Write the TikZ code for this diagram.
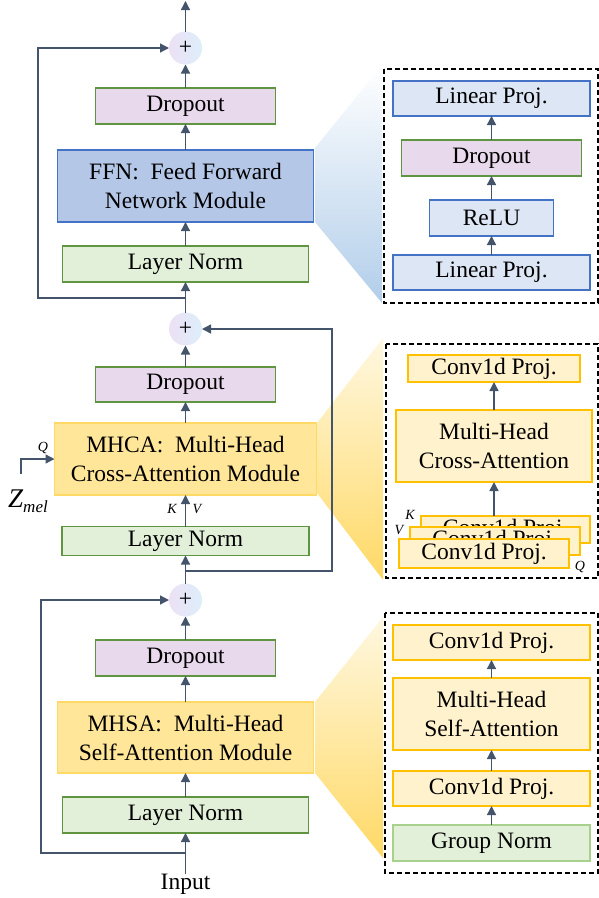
\documentclass[tikz,border=0pt]{standalone}
\usepackage{fontspec}
\setmainfont{Liberation Serif}
\usetikzlibrary{arrows.meta}
\definecolor{arrc}{HTML}{44546A}
\definecolor{dropf}{HTML}{E9D9EC}
\definecolor{grnb}{HTML}{5F9441}
\definecolor{lnf}{HTML}{E2F0D9}
\definecolor{ffnf}{HTML}{B4C7E7}
\definecolor{blub}{HTML}{4472C4}
\definecolor{linf}{HTML}{DCE6F4}
\definecolor{attf}{HTML}{FFE699}
\definecolor{attb}{HTML}{FFD966}
\definecolor{cvf}{HTML}{FFF2CC}
\definecolor{cvb}{HTML}{FFC000}
\definecolor{gnb}{HTML}{A9D18E}
\definecolor{fanb}{HTML}{B2CEEA}
\definecolor{fany}{HTML}{FFD966}
\definecolor{fanyt}{HTML}{FFF8E1}
\definecolor{plusl}{HTML}{ECE1F5}
\definecolor{plusr}{HTML}{DDEEFA}
\begin{document}
\begin{tikzpicture}[x=1pt,y=-1pt,
  every node/.style={inner sep=0pt, outer sep=0pt, align=center, font=\fontsize{23.5}{29}\selectfont},
  blk/.style={draw, line width=1.3pt},
  dropbox/.style={blk, fill=dropf, draw=grnb},
  lnbox/.style={blk, fill=lnf, draw=grnb},
  ffnbox/.style={blk, fill=ffnf, draw=blub},
  linbox/.style={blk, fill=linf, draw=blub},
  attbox/.style={blk, fill=attf, draw=attb},
  cvbox/.style={blk, fill=cvf, draw=cvb},
  gnbox/.style={blk, fill=lnf, draw=gnb},
  plusnode/.style={circle, minimum size=33pt, left color=plusl, right color=plusr, draw=none},
  arr/.style={draw=arrc, line width=1.4pt, -{Triangle[length=9pt,width=9pt]}},
  dbox/.style={draw=black, line width=1.2pt, dash pattern=on 5pt off 3pt},
  lbl/.style={font=\fontsize{14}{14}\selectfont\itshape}
]
\useasboundingbox (0,0) rectangle (599,898);

% fans
\shade[top color=white, bottom color=fanb] (315,148) -- (382,65) -- (382,303) -- (315,222) -- cycle;
\shade[top color=fanyt, bottom color=fany] (317,423) -- (383,338) -- (383,580) -- (317,493) -- cycle;
\shade[top color=fanyt, bottom color=fany] (315,702) -- (383,617) -- (383,858) -- (315,773) -- cycle;

% left column
\node[plusnode] (plus1) at (185.5,48) {+};
\node[dropbox, minimum width=180pt, minimum height=36pt] (d1) at (185.5,106) {Dropout};
\node[ffnbox, minimum width=256pt, minimum height=72pt] (ffn) at (185.5,186) {FFN:~ Feed Forward\\Network Module};
\node[lnbox, minimum width=246pt, minimum height=36pt] (ln1) at (185.5,264) {Layer Norm};

\node[plusnode] (plus2) at (185.5,329) {+};
\node[dropbox, minimum width=180pt, minimum height=35pt] (d2) at (185.5,384.5) {Dropout};
\node[attbox, minimum width=262pt, minimum height=72pt] (mhca) at (185.5,459) {MHCA:~ Multi-Head\\Cross-Attention Module};
\node[lnbox, minimum width=247pt, minimum height=29pt] (ln2) at (185.5,541) {Layer Norm};

\node[plusnode] (plus3) at (185.5,600) {+};
\node[dropbox, minimum width=180pt, minimum height=36pt] (d3) at (185.5,658) {Dropout};
\node[attbox, minimum width=256pt, minimum height=71pt] (mhsa) at (185.5,737.5) {MHSA:~ Multi-Head\\Self-Attention Module};
\node[lnbox, minimum width=246pt, minimum height=36pt] (ln3) at (185.5,815) {Layer Norm};
\node (input) at (185.5,884) {Input};

% Zmel and labels
\node (zmel) at (28,501) {{\fontsize{27}{27}\selectfont\itshape Z}{\fontsize{17}{17}\selectfont\itshape\raisebox{-5pt}{mel}}};
\node[lbl] (qlab) at (43,448) {Q};
\node[lbl] (klab) at (172,509) {K};
\node[lbl] (vlab) at (197,509) {V};

% right panel 1
\draw[dbox] (384,69) rectangle (598,303);
\node[linbox, minimum width=197pt, minimum height=35pt] (lp2) at (491.5,98.5) {Linear Proj.};
\node[dropbox, minimum width=180pt, minimum height=36pt] (rd) at (491.5,158) {Dropout};
\node[linbox, minimum width=124pt, minimum height=36pt] (relu) at (491.5,218) {ReLU};
\node[linbox, minimum width=197pt, minimum height=35pt] (lp1) at (491.5,272.5) {Linear Proj.};

% right panel 2
\draw[dbox] (386,344) rectangle (598,578);
\node[cvbox, minimum width=172pt, minimum height=27pt] (cp2) at (494,368.5) {Conv1d Proj.};
\node[cvbox, minimum width=196pt, minimum height=72pt] (mhca2) at (494,446) {Multi-Head\\Cross-Attention};
\node[cvbox, minimum width=169pt, minimum height=27pt] (cpk) at (505.5,529.5) {Conv1d Proj.};
\node[cvbox, minimum width=170pt, minimum height=28pt] (cpv) at (495,541) {Conv1d Proj.};
\node[cvbox, minimum width=170pt, minimum height=29pt] (cpq) at (484,553.5) {Conv1d Proj.};
\node[lbl] (k2) at (410,515) {K};
\node[lbl] (v2) at (399,530) {V};
\node[lbl] (q2) at (580,567) {Q};

% right panel 3
\draw[dbox] (385,613) rectangle (598,873);
\node[cvbox, minimum width=197pt, minimum height=35pt] (cp3t) at (491.5,642.5) {Conv1d Proj.};
\node[cvbox, minimum width=197pt, minimum height=72pt] (mhsa2) at (491.5,714) {Multi-Head\\Self-Attention};
\node[cvbox, minimum width=197pt, minimum height=35pt] (cp3b) at (491.5,788.5) {Conv1d Proj.};
\node[gnbox, minimum width=197pt, minimum height=36pt] (gn) at (491.5,843) {Group Norm};

% coordinates
\coordinate (out) at (185.5,1);
\coordinate (s1) at (185.5,298);
\coordinate (c1) at (38,298);
\coordinate (s2) at (185.5,571);
\coordinate (c2) at (332,571);
\coordinate (s3) at (185.5,853);
\coordinate (c3) at (41,853);
\coordinate (q0) at (21,474);

% main connectors
\draw[arr] (plus1.north) -- (out);
\draw[arr] (d1.north) -- (plus1.south);
\draw[arr] (ffn.north) -- (d1.south);
\draw[arr] (ln1.north) -- (ffn.south);
\draw[arr] (plus2.north) -- (ln1.south);
\draw[arr] (s1) -- (c1) |- (plus1.west);

\draw[arr] (d2.north) -- (plus2.south);
\draw[arr] (mhca.north) -- (d2.south);
\draw[arr] (ln2.north) -- (mhca.south);
\draw[arr] (plus3.north) -- (ln2.south);
\draw[arr] (s2) -- (c2) |- (plus2.east);
\draw[arr] (q0) |- (mhca.west);

\draw[arr] (d3.north) -- (plus3.south);
\draw[arr] (mhsa.north) -- (d3.south);
\draw[arr] (ln3.north) -- (mhsa.south);
\draw[arr] (input.north) -- (ln3.south);
\draw[arr] (s3) -- (c3) |- (plus3.west);

% right connectors
\draw[arr] (rd.north) -- (lp2.south);
\draw[arr] (relu.north) -- (rd.south);
\draw[arr] (lp1.north) -- (relu.south);
\draw[arr] (cpk.north -| mhca2.south) -- (mhca2.south);
\draw[arr] (mhca2.north) -- (cp2.south);
\draw[arr] (mhsa2.north) -- (cp3t.south);
\draw[arr] (cp3b.north) -- (mhsa2.south);
\draw[arr] (gn.north) -- (cp3b.south);
\end{tikzpicture}
\end{document}
